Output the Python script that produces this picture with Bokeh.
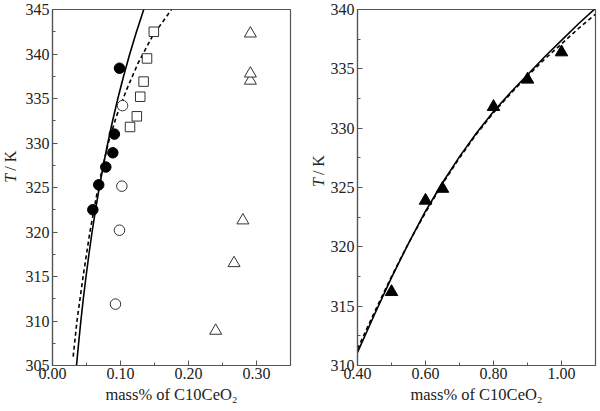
from math import pi

from bokeh.core.properties import value
from bokeh.embed import file_html
from bokeh.layouts import row
from bokeh.models import FixedTicker, NumeralTickFormatter, Range1d
from bokeh.plotting import figure
from bokeh.resources import INLINE

FONT = "Liberation Serif"
INK = "#222222"
FRAME = "#555555"
HEIGHT = 411

# ---- left panel: low concentration region ----
filled_circle_x = [0.0593, 0.068, 0.0784, 0.0887, 0.091, 0.0985]
filled_circle_T = [322.5, 325.3, 327.3, 328.9, 331.0, 338.4]
open_circle_x = [0.0926, 0.0985, 0.102, 0.103]
open_circle_T = [311.9, 320.2, 325.15, 334.2]
open_square_x = [0.114, 0.124, 0.129, 0.134, 0.139, 0.149]
open_square_T = [331.8, 333.0, 335.2, 336.9, 339.5, 342.5]
open_triangle_x = [0.240, 0.267, 0.280, 0.291, 0.291, 0.291]
open_triangle_T = [308.9, 316.5, 321.3, 337.0, 337.8, 342.3]

left_solid_T = [305, 307.5, 310, 312.5, 315, 317.5, 320, 322.5, 325,
                327.5, 330, 332.5, 335, 337.5, 340, 342.5, 345]
left_solid_x = [0.0353, 0.0384, 0.0417, 0.0453, 0.0493, 0.0536, 0.0582,
                0.0633, 0.0688, 0.0748, 0.0813, 0.0884, 0.0961, 0.1045,
                0.1136, 0.1235, 0.1342]
left_dash_T = [306, 310, 315, 320, 325, 330, 333, 336, 339, 342, 345]
left_dash_x = [0.0304, 0.036, 0.045, 0.055, 0.067, 0.082, 0.094, 0.109,
               0.126, 0.147, 0.175]

left_xticks = [0.0, 0.1, 0.2, 0.3]
left_xminor = [0.05, 0.15, 0.25]
left_yticks = [305, 310, 315, 320, 325, 330, 335, 340, 345]
left_yminor = [307.5, 312.5, 317.5, 322.5, 327.5, 332.5, 337.5, 342.5]

# ---- right panel: high concentration region ----
filled_triangle_x = [0.50, 0.60, 0.65, 0.80, 0.90, 1.00]
filled_triangle_T = [316.2, 323.9, 324.9, 331.8, 334.1, 336.4]

right_curve_x = [0.40, 0.45, 0.50, 0.55, 0.60, 0.65, 0.70, 0.75, 0.80,
                 0.85, 0.90, 0.95, 1.00, 1.05, 1.10]
right_solid_T = [311.1, 314.3, 317.4, 320.3, 323.0, 325.4, 327.6, 329.6,
                 331.4, 333.0, 334.5, 336.0, 337.4, 338.8, 340.1]
right_dash_T = [311.4, 314.5, 317.5, 320.3, 322.9, 325.3, 327.5, 329.5,
                331.3, 332.9, 334.4, 335.8, 337.1, 338.4, 339.6]

right_xticks = [0.4, 0.6, 0.8, 1.0]
right_xminor = [0.5, 0.7, 0.9]
right_yticks = [310, 315, 320, 325, 330, 335, 340]
right_yminor = [312.5, 317.5, 322.5, 327.5, 332.5, 337.5]

X_LABEL = "mass% of C10CeO\u2082"


def y_label_strip(width, cx, cy):
    """Narrow strip holding the rotated 'T / K' label (italic T)."""
    s = figure(width=width, height=HEIGHT, x_range=Range1d(0, width),
               y_range=Range1d(0, HEIGHT), min_border=0,
               output_backend="svg", toolbar_location=None)
    s.axis.visible = False
    s.grid.visible = False
    s.outline_line_color = None
    start = HEIGHT - cy - 17
    s.text(x=[cx], y=[start], text=["T"], angle=pi / 2,
           text_font=value(FONT), text_font_style="italic",
           text_font_size="16px", text_color=INK,
           text_align="left", text_baseline="middle")
    s.text(x=[cx], y=[start + 13.8], text=["/ K"], angle=pi / 2,
           text_font=value(FONT), text_font_size="16px", text_color=INK,
           text_align="left", text_baseline="middle")
    return s


def make_panel(width, xr, yr, xt, xm, yt, ym, borders):
    left, right, top, bottom = borders
    p = figure(
        width=width, height=HEIGHT,
        x_range=Range1d(*xr), y_range=Range1d(*yr),
        output_backend="svg", toolbar_location=None,
        min_border_left=left, min_border_right=right,
        min_border_top=top, min_border_bottom=bottom,
    )
    p.grid.visible = False
    p.outline_line_color = FRAME
    p.outline_line_width = 1.2
    p.background_fill_color = "white"
    p.border_fill_color = "white"

    p.xaxis.ticker = FixedTicker(ticks=xt, minor_ticks=xm)
    p.yaxis.ticker = FixedTicker(ticks=yt, minor_ticks=ym)
    p.xaxis.formatter = NumeralTickFormatter(format="0.00")
    p.yaxis.formatter = NumeralTickFormatter(format="0")
    for ax in (p.xaxis[0], p.yaxis[0]):
        ax.axis_line_color = FRAME
        ax.axis_line_width = 1.2
        ax.major_tick_in = 5
        ax.major_tick_out = 0
        ax.minor_tick_in = 3
        ax.minor_tick_out = 0
        ax.major_tick_line_color = FRAME
        ax.minor_tick_line_color = FRAME
        ax.major_label_text_font = FONT
        ax.major_label_text_font_size = "16px"
        ax.major_label_text_color = INK
    p.xaxis.major_label_standoff = 2
    p.yaxis.major_label_standoff = 3
    p.xaxis.axis_label = X_LABEL
    p.xaxis.axis_label_text_font = FONT
    p.xaxis.axis_label_text_font_size = "16.5px"
    p.xaxis.axis_label_text_font_style = "normal"
    p.xaxis.axis_label_text_color = INK
    p.xaxis.axis_label_standoff = 3
    return p


left_strip = y_label_strip(20, 10, 183)
left = make_panel(280, (0.0, 0.35), (305, 345), left_xticks, left_xminor,
                  left_yticks, left_yminor, (32, 10, 7, 46))
left.line(left_solid_x, left_solid_T, line_color="black", line_width=1.6)
left.line(left_dash_x, left_dash_T, line_color="black", line_width=1.6,
          line_dash="4 3")
left.scatter(filled_circle_x, filled_circle_T, marker="circle", size=10.5,
             fill_color="black", line_color="black")
left.scatter(open_circle_x, open_circle_T, marker="circle", size=10.5,
             fill_color="white", line_color="#333333", line_width=1)
left.scatter(open_square_x, open_square_T, marker="square", size=9.5,
             fill_color="white", line_color="#333333", line_width=1)
left.scatter(open_triangle_x, open_triangle_T, marker="triangle", size=12,
             fill_color="white", line_color="#333333", line_width=1)

right_strip = y_label_strip(27, 18, 188)
right = make_panel(273, (0.40, 1.10), (310, 340), right_xticks, right_xminor,
                   right_yticks, right_yminor, (30, 5, 9, 44))
right.line(right_curve_x, right_solid_T, line_color="black", line_width=1.6)
right.line(right_curve_x, right_dash_T, line_color="black", line_width=1.6,
           line_dash="4 3")
right.scatter(filled_triangle_x, filled_triangle_T, marker="triangle",
              size=12.5, fill_color="black", line_color="black")

layout = row(left_strip, left, right_strip, right)
open("out.html", "w").write(file_html(layout, INLINE))
